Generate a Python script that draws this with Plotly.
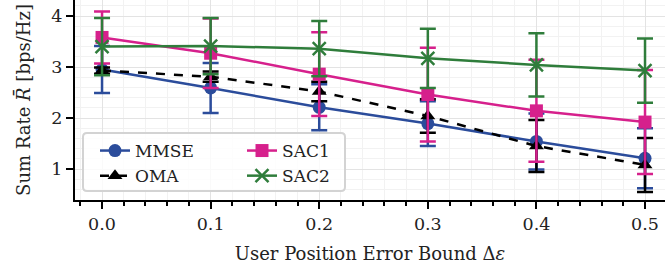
import plotly.graph_objects as go

# ---- data ----
x_vals = [0.0, 0.1, 0.2, 0.3, 0.4, 0.5]
mmse = [2.95, 2.59, 2.21, 1.89, 1.54, 1.21]
mmse_err = [0.46, 0.49, 0.45, 0.44, 0.55, 0.59]
oma = [2.93, 2.81, 2.52, 2.04, 1.45, 1.08]
oma_err = [0.06, 0.1, 0.19, 0.33, 0.51, 0.53]
sac1 = [3.58, 3.27, 2.86, 2.46, 2.14, 1.92]
sac1_err = [0.51, 0.68, 0.82, 0.92, 1.0, 1.02]
sac2 = [3.40, 3.41, 3.36, 3.17, 3.04, 2.93]
sac2_err = [0.56, 0.55, 0.54, 0.58, 0.62, 0.63]
x_tick_vals = [0.0, 0.1, 0.2, 0.3, 0.4, 0.5]
x_tick_text = ["0.0", "0.1", "0.2", "0.3", "0.4", "0.5"]
y_tick_vals = [1, 2, 3, 4]
y_tick_text = ["1", "2", "3", "4"]

BLUE = "#2B4C9B"
PINK = "#D6208C"
GREEN = "#2F7D3B"
BLACK = "#000000"
FONT = "DejaVu Serif"
TXT = "#222222"

W, H = 665, 276
ML, MR, MT, MB = 75, 0, 0, 76
PW, PH = W - ML - MR, H - MT - MB


def px_x(p):
    return (p - ML) / PW


def px_y(p):
    return 1 - (p - MT) / PH


fig = go.Figure()

series = [
    ("MMSE", mmse, mmse_err, BLUE, "circle", "solid", "legend", 1),
    ("OMA", oma, oma_err, BLACK, "triangle-up", "dash", "legend", 2),
    ("SAC1", sac1, sac1_err, PINK, "square", "solid", "legend2", 1),
    ("SAC2", sac2, sac2_err, GREEN, "x-thin-open", "solid", "legend2", 2),
]
for name, ys, es, col, sym, dash, leg, rank in series:
    mk = dict(symbol=sym, size=13, color=col)
    if sym == "x-thin-open":
        mk = dict(symbol=sym, size=13, color=col, line=dict(color=col, width=2.5))
    fig.add_trace(go.Scatter(
        x=x_vals, y=ys, name=name, mode="lines+markers",
        line=dict(color=col, width=2.5, dash=dash),
        marker=mk,
        error_y=dict(type="data", array=es, visible=True, color=col,
                     thickness=2.5, width=8),
        legend=leg, legendrank=rank,
    ))

# legend frame
x0, x1 = px_x(83), px_x(345)
y0, y1 = px_y(191), px_y(133)
rx, ry = 4 / PW, 4 / PH
path = (f"M {x0+rx},{y0} L {x1-rx},{y0} Q {x1},{y0} {x1},{y0+ry} "
        f"L {x1},{y1-ry} Q {x1},{y1} {x1-rx},{y1} L {x0+rx},{y1} "
        f"Q {x0},{y1} {x0},{y1-ry} L {x0},{y0+ry} Q {x0},{y0} {x0+rx},{y0} Z")
fig.add_shape(type="path", path=path, xref="paper", yref="paper",
              fillcolor="rgba(255,255,255,0.8)",
              line=dict(color="#D3D3D3", width=2), layer="above")

leg_common = dict(bgcolor="rgba(0,0,0,0)", borderwidth=0,
                  font=dict(family=FONT, size=17, color=TXT),
                  yanchor="top", xanchor="left", tracegroupgap=0)

fig.update_layout(
    width=W, height=H,
    margin=dict(l=ML, r=MR, t=MT, b=MB),
    paper_bgcolor="white", plot_bgcolor="white",
    font=dict(family=FONT, size=18, color=TXT),
    legend=dict(x=px_x(95), y=px_y(133), **leg_common),
    legend2=dict(x=px_x(242), y=px_y(133), **leg_common),
    xaxis=dict(
        range=[-0.0249, 0.5184], automargin=False,
        tickvals=x_tick_vals, ticktext=x_tick_text,
        showline=True, linecolor="black", linewidth=2,
        ticks="outside", ticklen=7, tickwidth=2, tickcolor="black",
        showgrid=True, gridcolor="#E3E3E3", gridwidth=1,
        zeroline=False,
        minor=dict(dtick=0.02, tick0=0, ticks="outside", ticklen=4,
                   tickwidth=1.5, tickcolor="black", showgrid=True,
                   gridcolor="#F2F2F2", gridwidth=1),
        title=dict(text="User Position Error Bound Δ<i>ε</i>",
                   font=dict(family=FONT, size=18), standoff=14),
        tickfont=dict(family=FONT, size=17.5),
    ),
    yaxis=dict(
        range=[0.392, 4.314], automargin=False,
        tickvals=y_tick_vals, ticktext=y_tick_text,
        showline=True, linecolor="black", linewidth=2,
        ticks="outside", ticklen=7, tickwidth=2, tickcolor="black",
        showgrid=True, gridcolor="#E3E3E3", gridwidth=1,
        zeroline=False,
        minor=dict(dtick=0.2, tick0=0, ticks="", showgrid=True,
                   gridcolor="#F2F2F2", gridwidth=1),
        title=dict(text="Sum Rate <i>R̄</i> [bps/Hz]",
                   font=dict(family=FONT, size=18), standoff=16),
        tickfont=dict(family=FONT, size=17.5),
    ),
)

fig.write_html("out.html", config={"displayModeBar": False},
               post_script="document.body.style.margin='0';"
                           "document.body.style.padding='0';")
